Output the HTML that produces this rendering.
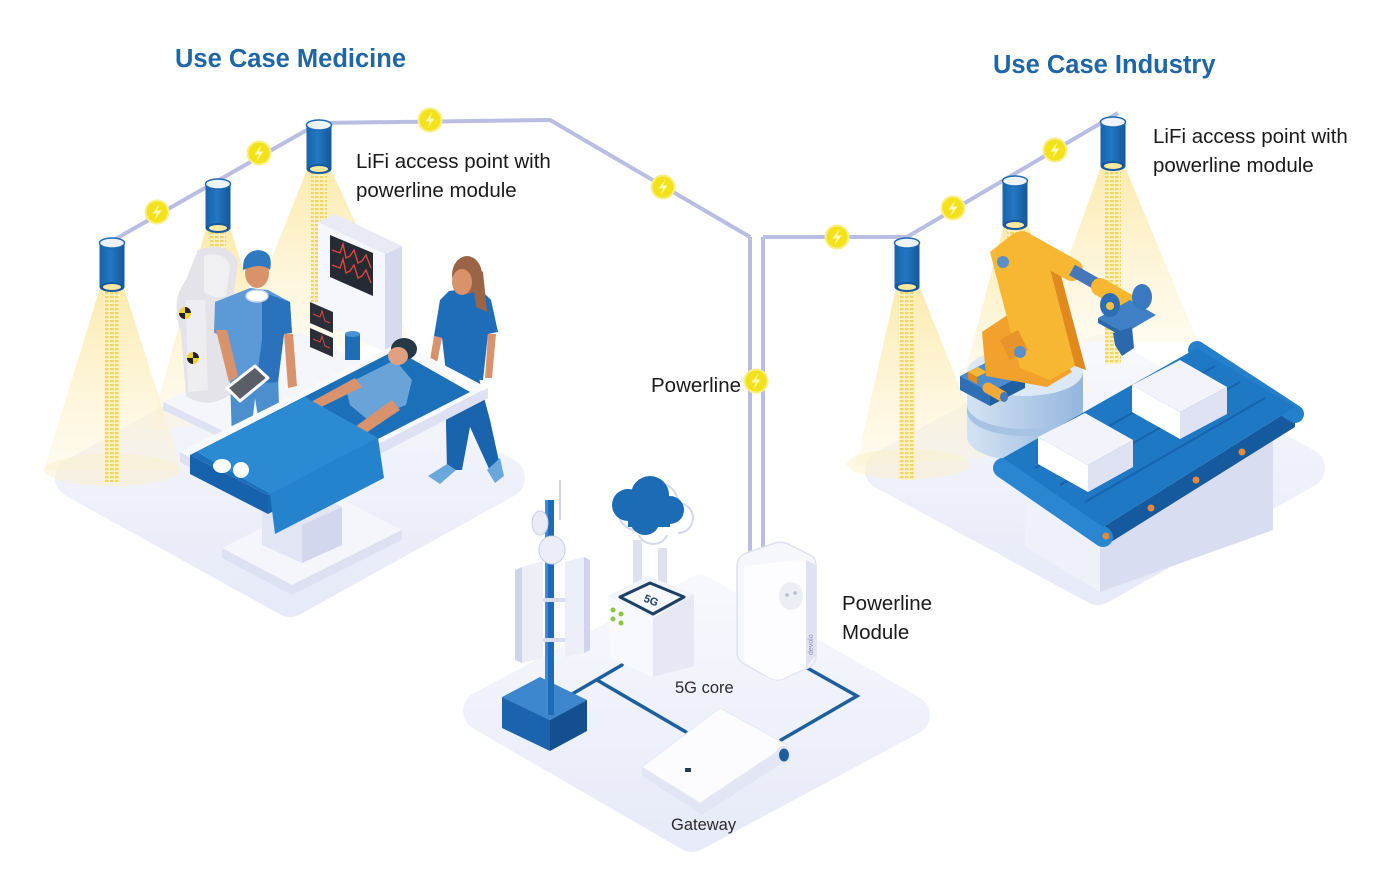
<!DOCTYPE html>
<html><head><meta charset="utf-8">
<style>
html,body{margin:0;padding:0;background:#fff;}
svg{display:block;}
text{font-family:"Liberation Sans",Arial,sans-serif;}
</style></head><body>
<svg width="1400" height="881" viewBox="0 0 1400 881" xmlns="http://www.w3.org/2000/svg">
<defs>
  <linearGradient id="plat" x1="0" y1="0" x2="0" y2="1">
    <stop offset="0" stop-color="#f7f8fd"/>
    <stop offset="1" stop-color="#e7eaf8"/>
  </linearGradient>
  <linearGradient id="cone" x1="0" y1="0" x2="0" y2="1">
    <stop offset="0" stop-color="#fbe7a0" stop-opacity="0.85"/>
    <stop offset="1" stop-color="#fdf3d2" stop-opacity="0.35"/>
  </linearGradient>
  <linearGradient id="lampg" x1="0" y1="0" x2="1" y2="0">
    <stop offset="0" stop-color="#1a63aa"/>
    <stop offset="0.45" stop-color="#2377c2"/>
    <stop offset="1" stop-color="#14579a"/>
  </linearGradient>
  <linearGradient id="cyl" x1="0" y1="0" x2="1" y2="0">
    <stop offset="0" stop-color="#d4e3f3"/>
    <stop offset="1" stop-color="#93b6de"/>
  </linearGradient>
  <pattern id="dots" width="5" height="4" patternUnits="userSpaceOnUse">
    <rect width="3.6" height="2.2" fill="#eed564"/>
  </pattern>
  <g id="bolt">
    <circle r="11.5" fill="#f3e21a" stroke="#f8ef86" stroke-width="2"/>
    <path d="M2.5,-8 L-4.5,1.5 L0,1.5 L-2.5,8 L4.5,-1.5 L0,-1.5 Z" fill="#fff8b8"/>
  </g>
  <g id="lamp">
    <rect x="-12.5" y="0" width="25" height="44" fill="url(#lampg)"/>
    <ellipse cx="0" cy="44" rx="12.5" ry="5" fill="#16599e"/>
    <ellipse cx="0" cy="0" rx="12.5" ry="5" fill="#eef2fa" stroke="#1d6ab2" stroke-width="1.5"/>
    <ellipse cx="0" cy="44" rx="9" ry="3" fill="#fbe9a0"/>
  </g>
</defs>

<!-- Platforms -->
<polygon points="75,478 290,597 505,478 290,358" fill="url(#plat)" stroke="url(#plat)" stroke-width="40" stroke-linejoin="round"/>
<polygon points="483,711 692,832 910,715 700,595" fill="url(#plat)" stroke="url(#plat)" stroke-width="40" stroke-linejoin="round"/>
<polygon points="885,470 1098,585 1305,468 1098,355" fill="url(#plat)" stroke="url(#plat)" stroke-width="40" stroke-linejoin="round"/>

<!-- Light cones left -->
<polygon points="100,288 124,288 182,470 44,470" fill="url(#cone)"/>
<ellipse cx="112" cy="470" rx="68" ry="16" fill="#fbf0c8" opacity="0.5"/>
<polygon points="206,228 230,228 292,420 150,430" fill="url(#cone)"/>
<polygon points="307,170 331,170 412,345 235,350" fill="url(#cone)"/>
<rect x="104" y="290" width="16" height="192" fill="#fbf1c4"/>
<rect x="104" y="290" width="16" height="192" fill="url(#dots)"/>
<rect x="210" y="230" width="16" height="70" fill="#fbf1c4"/>
<rect x="210" y="230" width="16" height="70" fill="url(#dots)"/>
<rect x="311" y="172" width="16" height="130" fill="#fbf1c4"/>
<rect x="311" y="172" width="16" height="130" fill="url(#dots)"/>

<!-- Light cones right -->
<polygon points="896,288 920,288 988,458 856,466" fill="url(#cone)"/>
<ellipse cx="908" cy="464" rx="62" ry="15" fill="#fbf0c8" opacity="0.5"/>
<polygon points="1004,225 1028,225 1092,392 960,392" fill="url(#cone)"/>
<polygon points="1101,167 1125,167 1198,342 1038,342" fill="url(#cone)"/>
<rect x="899" y="290" width="16" height="190" fill="#fbf1c4"/>
<rect x="899" y="290" width="16" height="190" fill="url(#dots)"/>
<rect x="1007" y="227" width="16" height="60" fill="#fbf1c4"/>
<rect x="1007" y="227" width="16" height="60" fill="url(#dots)"/>
<rect x="1105" y="169" width="16" height="195" fill="#fbf1c4"/>
<rect x="1105" y="169" width="16" height="195" fill="url(#dots)"/>

<!-- ===== LEFT SCENE ===== -->
<polygon points="163,402 300,332 425,392 288,462" fill="#f5f6fc"/>
<polygon points="163,402 288,462 425,392 425,400 288,470 163,410" fill="#dfe2f2"/>
<!-- microscope -->
<path d="M198,250 Q228,240 238,262 L233,300 Q246,320 232,342 L230,395 Q207,410 186,396 L181,332 Q170,300 186,280 Z" fill="#e3e3e9"/>
<path d="M204,256 Q224,250 230,266 L226,296 Q214,300 204,292 Z" fill="#f0f0f3"/>
<path d="M186,300 L205,300 L208,390 L188,392 Z" fill="#eeeef2"/>
<circle cx="185" cy="313" r="6" fill="#f2d23b"/>
<path d="M185,307 A6,6 0 0 1 191,313 L185,313 Z M185,319 A6,6 0 0 1 179,313 L185,313 Z" fill="#222"/>
<circle cx="193" cy="358" r="6" fill="#f2d23b"/>
<path d="M193,352 A6,6 0 0 1 199,358 L193,358 Z M193,364 A6,6 0 0 1 187,358 L193,358 Z" fill="#222"/>
<!-- monitor -->
<polygon points="318,222 385,254 385,352 318,322" fill="#f6f7fd"/>
<polygon points="385,254 402,246 402,345 385,352" fill="#d6daef"/>
<polygon points="318,222 335,214 402,246 385,254" fill="#e8eaf6"/>
<polygon points="330,235 373,253 373,296 330,277" fill="#262a33"/>
<polyline points="332,250 340,253 343,244 346,258 350,256 354,250 358,263 362,261 366,255 371,268" fill="none" stroke="#e0453e" stroke-width="1.4"/>
<polyline points="332,265 340,268 343,259 346,273 350,271 354,265 358,278 362,276 366,270 371,283" fill="none" stroke="#e0453e" stroke-width="1.4"/>
<polygon points="310,302 333,312 333,333 310,323" fill="#2a2e38"/>
<polygon points="310,328 333,338 333,357 310,347" fill="#2a2e38"/>
<polyline points="313,314 320,317 322,311 325,321 330,323" fill="none" stroke="#e0453e" stroke-width="1"/>
<polyline points="313,339 320,342 322,336 325,346 330,348" fill="none" stroke="#e0453e" stroke-width="1"/>
<rect x="345" y="334" width="15" height="26" fill="#1f6db5"/>
<ellipse cx="352.5" cy="334" rx="7.5" ry="3" fill="#4b91d2"/>

<!-- doctor -->
<polygon points="230,375 278,372 280,442 262,442 255,398 250,442 232,442" fill="#4b8fce"/>
<polygon points="215,302 250,288 268,290 290,302 292,333 284,334 278,382 230,384 226,336 214,333" fill="#5b9ad6"/>
<polygon points="262,292 290,302 292,333 284,334 278,382 256,384 262,340" fill="#2a72bb"/>
<polygon points="216,330 227,330 238,376 229,382" fill="#d8936c"/>
<polygon points="284,334 293,334 297,386 288,388" fill="#d8936c"/>
<ellipse cx="257" cy="296" rx="11" ry="6" fill="#fff" stroke="#c9d3ea" stroke-width="1.5"/>
<ellipse cx="257" cy="273" rx="12" ry="15" fill="#d9936b"/>
<path d="M243,270 Q242,252 258,250 Q274,251 270,270 Q262,262 243,270 Z" fill="#2f79c0"/>
<polygon points="227,388 255,366 268,378 240,401" fill="#5a5e66" stroke="#fff" stroke-width="3" stroke-linejoin="round"/>

<!-- nurse -->
<polygon points="445,378 478,375 490,420 500,466 490,471 470,427 462,470 447,470" fill="#1a63ad"/>
<polygon points="428,476 447,464 456,470 440,484" fill="#6aa7dd"/>
<polygon points="487,470 500,458 504,476 495,483" fill="#6aa7dd"/>
<polygon points="434,336 440,300 449,291 478,287 491,300 498,332 488,334 483,380 447,381 442,338" fill="#1e6db8"/>
<polygon points="434,336 442,338 436,368 429,366" fill="#d8936c"/>
<polygon points="488,334 496,334 492,378 485,378" fill="#d8936c"/>
<ellipse cx="467" cy="275" rx="15" ry="19" fill="#9b6447"/>
<polygon points="470,262 483,272 487,312 476,307" fill="#9b6447"/>
<ellipse cx="462" cy="282" rx="10" ry="13" fill="#d9936b"/>

<!-- bed base -->
<polygon points="222,548 330,493 402,530 292,585" fill="#f5f6fc"/>
<polygon points="222,548 292,585 402,530 402,540 292,595 222,558" fill="#dde1f2"/>
<polygon points="262,505 300,487 342,507 342,545 302,563 262,545" fill="#e2e5f4"/>
<polygon points="302,525 342,507 342,545 302,563" fill="#d2d7ee"/>
<!-- bed frame -->
<polygon points="180,452 268,500 488,388 400,342" fill="#f9faff"/>
<polygon points="180,452 268,500 488,388 488,398 268,512 180,462" fill="#dde1f3"/>
<!-- mattress -->
<polygon points="190,455 268,495 470,392 396,350" fill="#1c6fb9"/>
<polygon points="190,455 268,495 268,514 190,474" fill="#1762ac"/>
<polygon points="268,495 300,479 300,498 268,514" fill="#1a68b2"/>
<!-- patient -->
<polygon points="345,385 395,360 412,380 406,405 368,420 350,405" fill="#6aa3d8"/>
<polygon points="355,378 362,387 305,415 298,409" fill="#d8936c"/>
<polygon points="392,400 400,410 345,447 337,440" fill="#d8936c"/>
<ellipse cx="404" cy="349" rx="13" ry="11" fill="#263845"/>
<ellipse cx="398" cy="356" rx="10" ry="9" fill="#e0a080"/>
<!-- sheet -->
<polygon points="196,452 305,397 378,438 270,494" fill="#2b8ad1"/>
<polygon points="270,494 378,438 384,478 275,534" fill="#2483cc"/>
<ellipse cx="222" cy="466" rx="9" ry="7" fill="#fff"/>
<ellipse cx="241" cy="470" rx="8" ry="8" fill="#fff"/>

<!-- ===== MIDDLE SCENE ===== -->
<g stroke="#1d5f9e" stroke-width="3.5" fill="none" stroke-linecap="round">
  <line x1="567" y1="697" x2="622" y2="665"/>
  <line x1="597" y1="680" x2="686" y2="732"/>
  <polyline points="802,665 857,696 781,740"/>
</g>
<!-- tower base -->
<polygon points="502,697 540,677 587,700 550,720" fill="#3b86cc"/>
<polygon points="502,697 550,720 550,751 502,728" fill="#1b64ad"/>
<polygon points="550,720 587,700 587,731 550,751" fill="#14508f"/>
<!-- panels -->
<polygon points="522,567 543,561 543,658 522,663" fill="#eceef8"/>
<polygon points="515,570 522,567 522,663 515,660" fill="#cfd4ec"/>
<rect x="545" y="500" width="9" height="215" fill="#1d6bb6"/>
<rect x="545" y="500" width="3" height="215" fill="#3f8ad0"/>
<polygon points="565,562 584,557 584,653 565,657" fill="#eceef8"/>
<polygon points="584,557 590,560 590,650 584,653" fill="#cfd4ec"/>
<line x1="543" y1="600" x2="565" y2="600" stroke="#d8dcef" stroke-width="4"/>
<line x1="543" y1="640" x2="565" y2="640" stroke="#d8dcef" stroke-width="4"/>
<ellipse cx="540" cy="523" rx="8" ry="12" fill="#e9eaf4" stroke="#c9cee6"/>
<ellipse cx="552" cy="550" rx="13" ry="14" fill="#eceef7" stroke="#c9cee6"/>
<line x1="560" y1="480" x2="560" y2="520" stroke="#b0b4c8" stroke-width="1.2"/>
<!-- cloud -->
<g fill="#ffffff" stroke="#d3d8ee" stroke-width="4">
  <circle cx="636" cy="513" r="16"/><circle cx="658" cy="503" r="19"/><circle cx="678" cy="518" r="14"/><circle cx="653" cy="528" r="15"/>
</g>
<g fill="#ffffff">
  <circle cx="636" cy="513" r="16"/><circle cx="658" cy="503" r="19"/><circle cx="678" cy="518" r="14"/><circle cx="653" cy="528" r="15"/>
  <rect x="636" y="513" width="42" height="22"/>
</g>
<g fill="#1c6cb5">
  <circle cx="628" cy="505" r="16"/><circle cx="650" cy="495" r="19"/><circle cx="670" cy="510" r="14"/><circle cx="645" cy="520" r="15"/>
  <rect x="628" y="505" width="42" height="22"/>
</g>
<rect x="633" y="540" width="9" height="45" fill="#dfe2ee"/>
<rect x="658" y="548" width="9" height="40" fill="#dfe2ee"/>
<!-- 5G box -->
<polygon points="608,596 653,618 653,677 610,658" fill="#f8f9fe"/>
<polygon points="653,618 694,594 694,666 653,677" fill="#e6e8f5"/>
<polygon points="608,596 648,576 694,594 653,618" fill="#f3f4fb"/>
<polygon points="620,597 650,583 684,597 653,614" fill="#f8f9ff" stroke="#1d4068" stroke-width="3" stroke-linejoin="round"/>
<text x="644" y="604" font-size="11" font-weight="bold" fill="#1d4068" transform="rotate(22 651 600)">5G</text>
<g fill="#8cc63f"><circle cx="613" cy="610" r="2.5"/><circle cx="621" cy="614" r="2.5"/><circle cx="613" cy="619" r="2.5"/><circle cx="621" cy="623" r="2.5"/></g>
<!-- powerline cables to module -->
<line x1="750" y1="237" x2="750" y2="556" stroke="#b9bde3" stroke-width="4"/>
<line x1="763" y1="237" x2="763" y2="552" stroke="#b9bde3" stroke-width="4"/>
<!-- powerline module -->
<path d="M737,567 Q737,557 746,553 L775,543 Q783,541 790,545 L812,556 Q816,559 816,566 L816,655 Q816,664 808,668 L782,679 Q776,681 770,678 L744,664 Q737,660 737,652 Z" fill="#f6f7fc" stroke="#dde1f1" stroke-width="1.5"/>
<path d="M744,566 L800,560 Q806,560 806,568 L806,668 L782,679 Q776,681 770,678 L748,665 Q744,662 744,656 Z" fill="#fdfdff"/>
<polygon points="806,560 816,565 816,655 806,668" fill="#dfe2f1"/>
<ellipse cx="791" cy="596" rx="12" ry="14" fill="#eceef6"/>
<circle cx="787" cy="595" r="1.8" fill="#b7bccd"/><circle cx="795" cy="593" r="1.8" fill="#b7bccd"/>
<text x="0" y="0" font-size="7" fill="#8d93ad" transform="translate(813,655) rotate(-90)">devolo</text>
<!-- gateway -->
<polygon points="642,767 700,803 787,745 787,760 702,815 642,776" fill="#e2e5f3"/>
<polygon points="642,767 720,708 787,745 700,803" fill="#fcfcff" stroke="#e7e9f4" stroke-width="1"/>
<ellipse cx="783" cy="755" rx="8" ry="9" fill="#e4e7f4"/>
<ellipse cx="784" cy="755" rx="5" ry="6.5" fill="#1d5f9e"/>
<rect x="685" y="768" width="6" height="4" fill="#2a3a55"/>

<!-- ===== RIGHT SCENE ===== -->
<path d="M967,372 L967,437 A58,24 0 0 0 1083,437 L1083,372 Z" fill="url(#cyl)"/>
<path d="M967,405 A58,24 0 0 0 1083,405 L1083,412 A58,24 0 0 1 967,412 Z" fill="#a7c3e4"/>
<ellipse cx="1025" cy="372" rx="58" ry="24" fill="#dce8f5"/>
<!-- conveyor base -->
<polygon points="1025,493 1100,538 1100,592 1025,547" fill="#eff1fa"/>
<polygon points="1100,538 1273,440 1273,530 1100,592" fill="#d9ddf2"/>
<!-- belt -->
<polygon points="1003,458 1103,527 1295,407 1295,427 1103,547 1003,478" fill="#15599f"/>
<line x1="1003" y1="468" x2="1103" y2="537" stroke="#2a86d0" stroke-width="20" stroke-linecap="round"/>
<line x1="1197" y1="350" x2="1295" y2="414" stroke="#2580cb" stroke-width="18" stroke-linecap="round"/>
<polygon points="1003,458 1197,348 1295,407 1103,527" fill="#1f78c4"/>
<g stroke="#1763ad" stroke-width="2">
  <line x1="1035" y1="468" x2="1215" y2="366"/>
  <line x1="1060" y1="485" x2="1240" y2="382"/>
  <line x1="1085" y1="502" x2="1265" y2="398"/>
</g>
<g fill="#e58a3c"><circle cx="1106" cy="536" r="3.5"/><circle cx="1151" cy="508" r="3.5"/><circle cx="1196" cy="480" r="3.5"/><circle cx="1242" cy="452" r="3.5"/></g>
<!-- boxes -->
<polygon points="1132,385 1180,412 1180,439 1132,412" fill="#ffffff"/>
<polygon points="1180,412 1227,387 1227,414 1180,439" fill="#dfe2f3"/>
<polygon points="1132,385 1180,360 1227,387 1180,412" fill="#f3f4fb"/>
<polygon points="1038,437 1088,465 1088,492 1038,464" fill="#ffffff"/>
<polygon points="1088,465 1133,440 1133,467 1088,492" fill="#dfe2f3"/>
<polygon points="1038,437 1085,413 1133,440 1088,465" fill="#f3f4fb"/>
<!-- robot blue block -->
<polygon points="960,376 995,358 1025,374 990,392" fill="#4d8bcc"/>
<polygon points="960,376 990,392 990,406 960,390" fill="#2e6fb5"/>
<polygon points="990,392 1025,374 1025,388 990,406" fill="#1f5ea3"/>
<polygon points="968,372 978,367 987,372 977,377" fill="#f7b733"/>
<polygon points="968,372 977,377 977,384 968,379" fill="#e58a1f"/>
<line x1="988" y1="388" x2="1002" y2="396" stroke="#f2a93a" stroke-width="11" stroke-linecap="round"/>
<ellipse cx="1004" cy="397" rx="4" ry="5" fill="#4777b8"/>
<!-- yellow arm -->
<polygon points="982,332 1006,316 1042,330 1072,372 1047,387 986,376" fill="#f2a12d"/>
<polygon points="990,252 1014,233 1044,246 1075,366 1050,380 1020,368" fill="#f7b733"/>
<polygon points="1044,246 1055,253 1086,370 1075,366" fill="#e0891c"/>
<polygon points="1000,340 1018,330 1028,350 1010,360" fill="#e8942a"/>
<circle cx="1003" cy="262" r="6" fill="#5a8fc7"/>
<circle cx="1020" cy="352" r="6" fill="#5a8fc7"/>
<line x1="1022" y1="242" x2="1072" y2="270" stroke="#f7b733" stroke-width="22" stroke-linecap="round"/>
<line x1="1072" y1="270" x2="1102" y2="287" stroke="#4777b8" stroke-width="12"/>
<line x1="1100" y1="287" x2="1128" y2="303" stroke="#f7b733" stroke-width="18" stroke-linecap="round"/>
<!-- gripper -->
<polygon points="1098,318 1130,300 1156,315 1125,333" fill="#3f80c6"/>
<polygon points="1098,318 1125,333 1125,338 1098,323" fill="#2b69ae"/>
<ellipse cx="1142" cy="297" rx="10" ry="13" fill="#3a78bf"/>
<ellipse cx="1110" cy="305" rx="10" ry="12" fill="#2d6db5"/>
<circle cx="1110" cy="306" r="4" fill="#f6c43a"/>
<polygon points="1113,333 1132,327 1134,348 1122,356 1115,345" fill="#2b69ae"/>

<!-- ===== CABLES ===== -->
<g stroke="#b9bde3" stroke-width="4" fill="none" stroke-linejoin="round">
  <polyline points="112,241 319,123 550,120 750,237"/>
  <polyline points="838,237 907,237 1118,113"/>
  <line x1="763" y1="237" x2="838" y2="237"/>
</g>

<!-- lamps -->
<use href="#lamp" x="112" y="243"/>
<use href="#lamp" x="218" y="184"/>
<use href="#lamp" x="319" y="125"/>
<use href="#lamp" x="907" y="243"/>
<use href="#lamp" x="1015" y="181"/>
<use href="#lamp" x="1113" y="122"/>

<!-- bolts -->
<use href="#bolt" x="157" y="212"/>
<use href="#bolt" x="259" y="153"/>
<use href="#bolt" x="430" y="120"/>
<use href="#bolt" x="663" y="187"/>
<use href="#bolt" x="756" y="381"/>
<use href="#bolt" x="837" y="237"/>
<use href="#bolt" x="953" y="208"/>
<use href="#bolt" x="1055" y="150"/>

<!-- ===== TEXT ===== -->
<text x="175" y="67" font-size="25.5" font-weight="bold" fill="#1f66a6">Use Case Medicine</text>
<text x="993" y="73" font-size="25.5" font-weight="bold" fill="#1f66a6">Use Case Industry</text>
<g font-size="20.5" fill="#1a1a1a">
  <text x="356" y="168">LiFi access point with</text>
  <text x="356" y="197">powerline module</text>
  <text x="1153" y="143">LiFi access point with</text>
  <text x="1153" y="172">powerline module</text>
  <text x="651" y="392">Powerline</text>
  <text x="842" y="610">Powerline</text>
  <text x="842" y="639">Module</text>
</g>
<text x="675" y="693" font-size="16.5" fill="#2a2a2a">5G core</text>
<text x="671" y="830" font-size="16.5" fill="#2a2a2a">Gateway</text>
</svg>
</body></html>
